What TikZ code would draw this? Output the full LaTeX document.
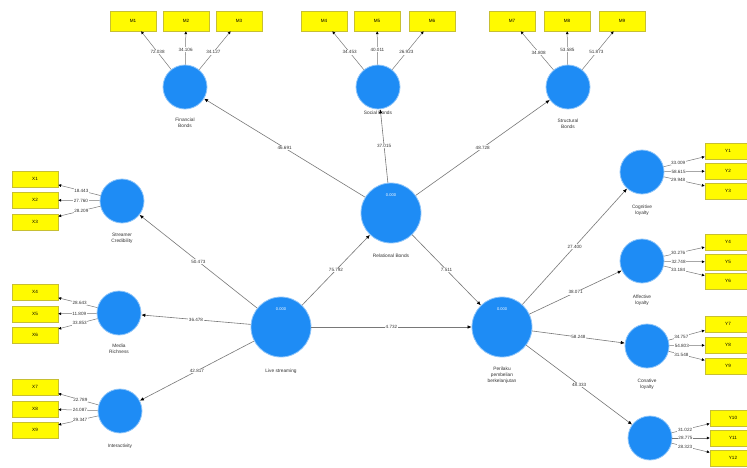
\documentclass[tikz,border=0pt]{standalone}
\usepackage{fontspec}
\setmainfont{Liberation Sans}
\usetikzlibrary{positioning,arrows.meta}
\definecolor{lvblue}{RGB}{30,140,245}
\definecolor{indyellow}{RGB}{255,250,0}
\definecolor{pathgray}{RGB}{120,120,120}

\begin{document}
\begin{tikzpicture}[x=1pt,y=-1pt,
  lv/.style={circle,fill=lvblue,draw=lvblue!50,line width=0.8pt,minimum size=44pt,inner sep=0pt},
  biglv/.style={lv,minimum size=60pt},
  ind/.style={rectangle,fill=indyellow,draw=yellow!75!black,line width=0.3pt,minimum width=46pt,minimum height=16pt,inner sep=0pt},
  topind/.style={ind,minimum height=20pt},
  arc/.style={draw=pathgray,line width=0.6pt,-{Latex[length=4pt,width=3.5pt,color=black]}},
  load/.style={draw=pathgray,line width=0.5pt,-{Latex[length=3pt,width=3pt,color=black]}},
  val/.style={fill=white,inner sep=0.6pt,font=\fontsize{4.6}{5}\selectfont,text=black!80},
  lvname/.style={align=center,font=\fontsize{4.8}{6}\selectfont,text=black!80},
  rsq/.style={font=\fontsize{4}{5}\selectfont,text=white},
  font=\fontsize{4.6}{5}\selectfont]
\clip (0,0) rectangle (747,467);
\fill[white] (0,0) rectangle (747,467);

% latent variables
\node[lv] (fb) at (185,87) {};
\node[lv] (sb) at (378,87) {};
\node[lv] (stb) at (568,87) {};
\node[lv] (sc) at (122,201) {};
\node[lv] (mr) at (119,313) {};
\node[lv] (ia) at (120,411) {};
\node[lv] (cl) at (642,172) {};
\node[lv] (al) at (642,261) {};
\node[lv] (col) at (647,346) {};
\node[lv] (bl) at (650,438) {};
\node[biglv] (ls) at (281,327) {};
\node[biglv] (rb) at (391,213) {};
\node[biglv] (pp) at (502,327) {};

\node[rsq] at (281,309) {0.000};
\node[rsq] at (391,195) {0.000};
\node[rsq] at (502,309) {0.000};

% names
\node[lvname,below=5pt of fb] {Financial\\Bonds};
\node[lvname,below=1pt of sb,fill=white,inner sep=0.5pt] {Social Bonds};
\node[lvname,below=6pt of stb] {Structural\\Bonds};
\node[lvname,below=6pt of sc] {Streamer\\Credibility};
\node[lvname,below=5pt of mr] {Media\\Richness};
\node[lvname,below=7pt of ia] {Interactivity};
\node[lvname,below=8pt of ls] {Live streaming};
\node[lvname,below=7pt of rb] {Relational Bonds};
\node[lvname,below=6pt of pp] {Perilaku\\pembelian\\berkelanjutan};
\node[lvname,below=7pt of cl] {Cognitive\\loyalty};
\node[lvname,below=8pt of al] {Affective\\loyalty};
\node[lvname,below=7pt of col] {Conative\\loyalty};

% indicators
\node[topind] (m1) at (133,21) {M1};
\node[topind] (m2) at (186,21) {M2};
\node[topind] (m3) at (239,21) {M3};
\node[topind] (m4) at (324,21) {M4};
\node[topind] (m5) at (377,21) {M5};
\node[topind] (m6) at (432,21) {M6};
\node[topind] (m7) at (512,21) {M7};
\node[topind] (m8) at (567,21) {M8};
\node[topind] (m9) at (622,21) {M9};
\node[ind] (x1) at (35,179) {X1};
\node[ind] (x2) at (35,200) {X2};
\node[ind] (x3) at (35,222) {X3};
\node[ind] (x4) at (35,292) {X4};
\node[ind] (x5) at (35,314) {X5};
\node[ind] (x6) at (35,335) {X6};
\node[ind] (x7) at (35,387) {X7};
\node[ind] (x8) at (35,409) {X8};
\node[ind] (x9) at (35,430) {X9};
\node[ind] (y1) at (728,151) {Y1};
\node[ind] (y2) at (728,171) {Y2};
\node[ind] (y3) at (728,191) {Y3};
\node[ind] (y4) at (728,242) {Y4};
\node[ind] (y5) at (728,262) {Y5};
\node[ind] (y6) at (728,281) {Y6};
\node[ind] (y7) at (728,324) {Y7};
\node[ind] (y8) at (728,345) {Y8};
\node[ind] (y9) at (728,366) {Y9};
\node[ind] (y10) at (733,418) {Y10};
\node[ind] (y11) at (733,438) {Y11};
\node[ind] (y12) at (733,458) {Y12};

% loadings
\draw[load] (fb)--(m1) node[val,pos=0.45]{72.038};
\draw[load] (fb)--(m2) node[val,pos=0.45]{34.106};
\draw[load] (fb)--(m3) node[val,pos=0.45]{34.127};
\draw[load] (sb)--(m4) node[val,pos=0.45]{34.453};
\draw[load] (sb)--(m5) node[val,pos=0.45]{40.011};
\draw[load] (sb)--(m6) node[val,pos=0.45]{26.923};
\draw[load] (stb)--(m7) node[val,pos=0.45]{34.808};
\draw[load] (stb)--(m8) node[val,pos=0.45]{53.585};
\draw[load] (stb)--(m9) node[val,pos=0.45]{51.873};
\draw[load] (sc)--(x1) node[val,pos=0.45]{18.443};
\draw[load] (sc)--(x2) node[val,pos=0.45]{27.760};
\draw[load] (sc)--(x3) node[val,pos=0.45]{28.209};
\draw[load] (mr)--(x4) node[val,pos=0.45]{28.643};
\draw[load] (mr)--(x5) node[val,pos=0.45]{11.809};
\draw[load] (mr)--(x6) node[val,pos=0.45]{33.853};
\draw[load] (ia)--(x7) node[val,pos=0.45]{22.789};
\draw[load] (ia)--(x8) node[val,pos=0.45]{24.087};
\draw[load] (ia)--(x9) node[val,pos=0.45]{29.347};
\draw[load] (cl)--(y1) node[val,pos=0.35]{33.009};
\draw[load] (cl)--(y2) node[val,pos=0.35]{58.615};
\draw[load] (cl)--(y3) node[val,pos=0.35]{29.948};
\draw[load] (al)--(y4) node[val,pos=0.35]{30.276};
\draw[load] (al)--(y5) node[val,pos=0.35]{32.748};
\draw[load] (al)--(y6) node[val,pos=0.35]{33.184};
\draw[load] (col)--(y7) node[val,pos=0.35]{34.757};
\draw[load] (col)--(y8) node[val,pos=0.35]{54.803};
\draw[load] (col)--(y9) node[val,pos=0.35]{31.548};
\draw[load] (bl)--(y10) node[val,pos=0.35]{31.022};
\draw[load] (bl)--(y11) node[val,pos=0.35]{28.775};
\draw[load] (bl)--(y12) node[val,pos=0.35]{28.323};

% structural paths
\draw[arc] (rb)--(fb) node[val,midway]{46.691};
\draw[arc] (rb)--(sb) node[val,midway]{37.015};
\draw[arc] (rb)--(stb) node[val,midway]{48.728};
\draw[arc] (ls)--(sc) node[val,midway]{50.473};
\draw[arc] (ls)--(mr) node[val,midway]{36.478};
\draw[arc] (ls)--(ia) node[val,midway]{42.817};
\draw[arc] (ls)--(rb) node[val,midway]{75.792};
\draw[arc] (rb)--(pp) node[val,midway]{7.511};
\draw[arc] (ls)--(pp) node[val,midway]{4.732};
\draw[arc] (pp)--(cl) node[val,midway]{27.400};
\draw[arc] (pp)--(al) node[val,midway]{38.071};
\draw[arc] (pp)--(col) node[val,midway]{58.248};
\draw[arc] (pp)--(bl) node[val,midway]{48.333};
\end{tikzpicture}
\end{document}
